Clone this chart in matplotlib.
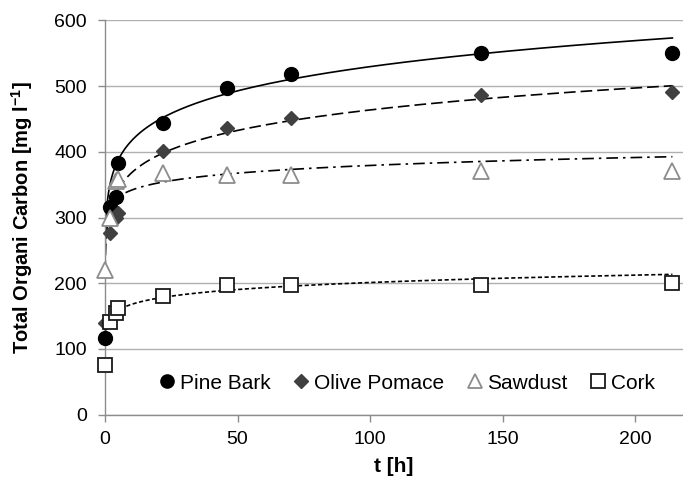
import numpy as np
import matplotlib
matplotlib.use("Agg")
import matplotlib.pyplot as plt

plt.rcParams['font.family'] = ['Liberation Sans', 'DejaVu Sans']
plt.rcParams['mathtext.fontset'] = 'custom'
plt.rcParams['mathtext.rm'] = 'Liberation Sans:bold'
plt.rcParams['mathtext.bf'] = 'Liberation Sans:bold'

# ---- data ----
t_hours = [0, 2, 4, 5, 22, 46, 70, 142, 214]
pine_bark = [117, 316, 331, 383, 444, 497, 518, 550, 551]
olive_pomace = [139, 277, 300, 307, 401, 436, 451, 486, 491]
sawdust = [220, 299, 355, 358, 368, 365, 365, 370, 370]
cork = [76, 141, 154, 162, 181, 197, 197, 198, 201]
series_names = ["Pine Bark", "Olive Pomace", "Sawdust", "Cork"]

# power-law trend lines y = a * t^b
fit_a = [328.0, 292.0, 307.8, 140.1]
fit_b = [0.104, 0.1004, 0.0453, 0.0785]

fig = plt.figure(figsize=(6.83, 4.79), dpi=100)
ax = fig.add_axes([105/683, 64.3/479, 578/683, 394.4/479])

styles = [
    dict(marker='o', ms=10, mfc='black', mec='black', mew=1.0),
    dict(marker='D', ms=7.5, mfc='#404040', mec='#404040', mew=1.0),
    dict(marker='^', ms=11, mfc='white', mec='#8c8c8c', mew=1.3),
    dict(marker='s', ms=10.5, mfc='white', mec='#1a1a1a', mew=1.3),
]
line_styles = [
    dict(ls='-', dashes=()),
    dict(ls='--', dashes=(7, 3)),
    dict(ls='-.', dashes=(7, 3, 1.5, 3)),
    dict(ls='--', dashes=(2.5, 1.5)),
]

data = [pine_bark, olive_pomace, sawdust, cork]
tt = np.geomspace(1e-4, max(t_hours), 600)
for i, (name, ys) in enumerate(zip(series_names, data)):
    ls = line_styles[i]
    line, = ax.plot(tt, fit_a[i] * tt ** fit_b[i], color='black', lw=1.2, zorder=2)
    if ls['dashes']:
        line.set_dashes(ls['dashes'])
    ax.plot(t_hours, ys, ls='none', label=name, zorder=3, clip_on=False, **styles[i])

ax.set_xlim(0, 218)
ax.set_ylim(0, 600)
ax.set_xticks([0, 50, 100, 150, 200])
ax.set_yticks(range(0, 601, 100))
ax.grid(axis='y', color='#b0b0b0', lw=1.0)
ax.set_axisbelow(True)
for s in ['top', 'right']:
    ax.spines[s].set_visible(False)
for s in ['left', 'bottom']:
    ax.spines[s].set_color('#8c8c8c')
    ax.spines[s].set_linewidth(1.0)
ax.tick_params(axis='both', colors='#8c8c8c', labelcolor='black', labelsize=14,
               length=5, width=1.0, direction='out')
ax.tick_params(axis='x', pad=7)
ax.tick_params(axis='y', pad=8)

ax.set_xlabel('t [h]', fontsize=15, fontweight='bold', labelpad=6)
ax.set_ylabel(r'Total Organi Carbon [mg l$^{-1}$]', fontsize=14.5, fontweight='bold', labelpad=14)

leg = ax.legend(loc='center', bbox_to_anchor=(0.523, 0.08), ncol=4, frameon=False,
                fontsize=15, handlelength=0.7, handletextpad=0.25, columnspacing=1.13,
                markerscale=0.95)

fig.savefig('out.png', dpi=100)
